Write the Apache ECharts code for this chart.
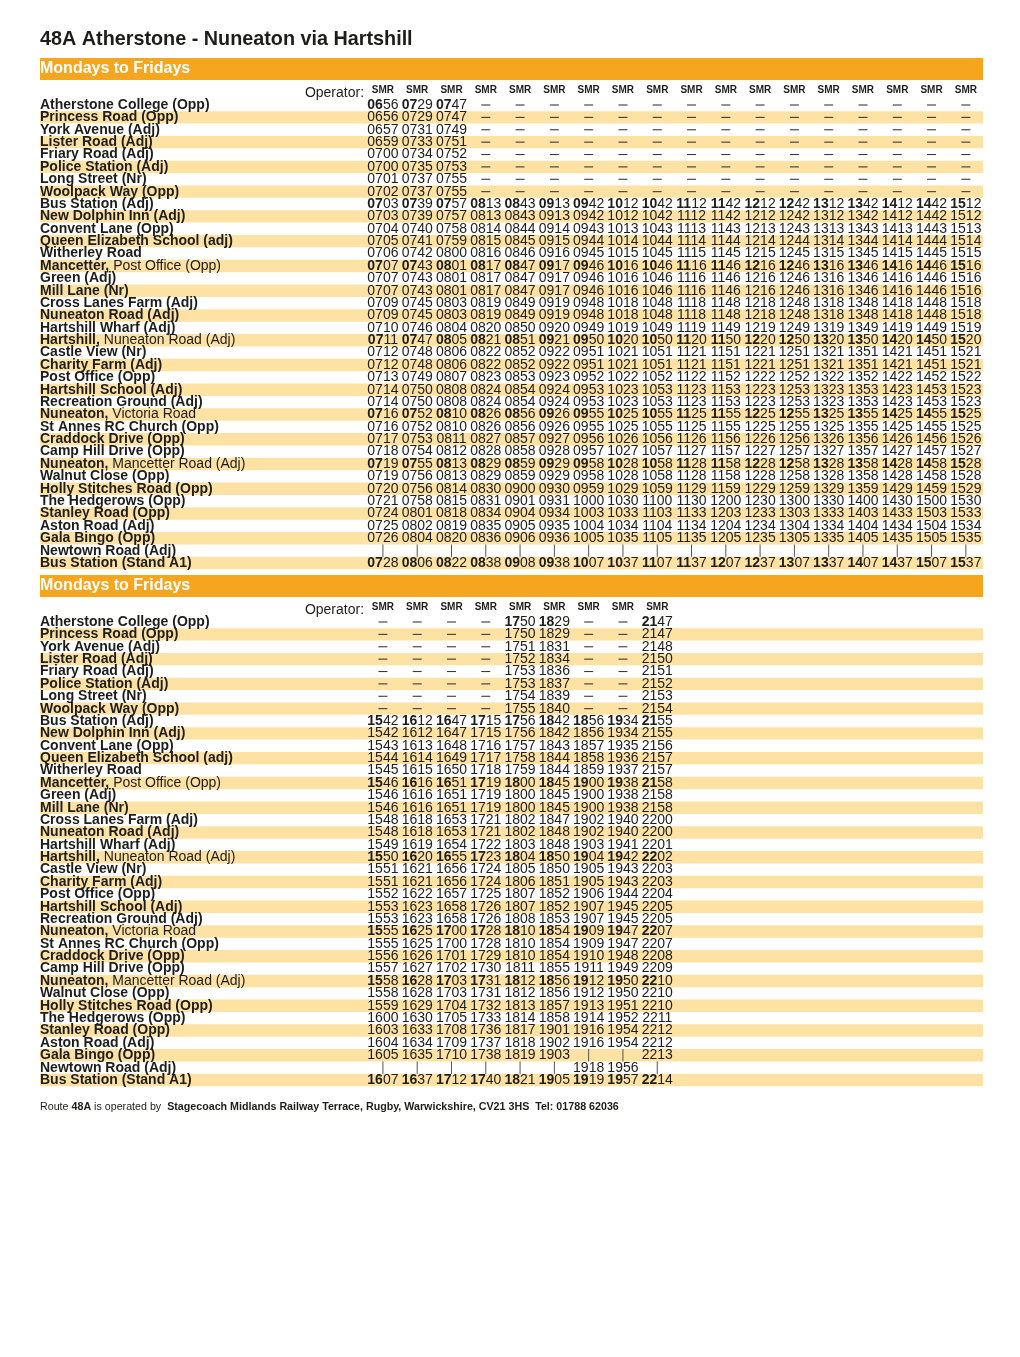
<!DOCTYPE html>
<html>
<head>
<meta charset="utf-8">
<title>48A Atherstone - Nuneaton via Hartshill</title>
<script src="https://cdn.jsdelivr.net/npm/echarts@6/dist/echarts.min.js"></script>
<style>
  html, body { margin: 0; padding: 0; background: #fff; }
  #main { width: 1020px; height: 1357px; }
</style>
</head>
<body>
<div id="main"></div>
<script>
// stops, top to bottom (same order in both tables)
var stops = [
  'Atherstone College (Opp)', 'Princess Road (Opp)', 'York Avenue (Adj)', 'Lister Road (Adj)',
  'Friary Road (Adj)', 'Police Station (Adj)', 'Long Street (Nr)', 'Woolpack Way (Opp)',
  'Bus Station (Adj)', 'New Dolphin Inn (Adj)', 'Convent Lane (Opp)', 'Queen Elizabeth School (adj)',
  'Witherley Road', 'Mancetter, Post Office (Opp)', 'Green (Adj)', 'Mill Lane (Nr)',
  'Cross Lanes Farm (Adj)', 'Nuneaton Road (Adj)', 'Hartshill Wharf (Adj)', 'Hartshill, Nuneaton Road (Adj)',
  'Castle View (Nr)', 'Charity Farm (Adj)', 'Post Office (Opp)', 'Hartshill School (Adj)',
  'Recreation Ground (Adj)', 'Nuneaton, Victoria Road', 'St Annes RC Church (Opp)', 'Craddock Drive (Opp)',
  'Camp Hill Drive (Opp)', 'Nuneaton, Mancetter Road (Adj)', 'Walnut Close (Opp)', 'Holly Stitches Road (Opp)',
  'The Hedgerows (Opp)', 'Stanley Road (Opp)', 'Aston Road (Adj)', 'Gala Bingo (Opp)',
  'Newtown Road (Adj)', 'Bus Station (Stand A1)'
]
// rows where the hour is printed in bold (timing points)
var timingRows = [0, 8, 13, 19, 25, 29, 37]

// '-' = does not serve, '|' = passes without stopping
var operators1 = ['SMR', 'SMR', 'SMR', 'SMR', 'SMR', 'SMR', 'SMR', 'SMR', 'SMR', 'SMR', 'SMR', 'SMR', 'SMR', 'SMR', 'SMR', 'SMR', 'SMR', 'SMR']
var trips1 = [
  '0656 0656 0657 0659 0700 0700 0701 0702 0703 0703 0704 0705 0706 0707 0707 0707 0709 0709 0710 0711 0712 0712 0713 0714 0714 0716 0716 0717 0718 0719 0719 0720 0721 0724 0725 0726 | 0728',
  '0729 0729 0731 0733 0734 0735 0737 0737 0739 0739 0740 0741 0742 0743 0743 0743 0745 0745 0746 0747 0748 0748 0749 0750 0750 0752 0752 0753 0754 0755 0756 0756 0758 0801 0802 0804 | 0806',
  '0747 0747 0749 0751 0752 0753 0755 0755 0757 0757 0758 0759 0800 0801 0801 0801 0803 0803 0804 0805 0806 0806 0807 0808 0808 0810 0810 0811 0812 0813 0813 0814 0815 0818 0819 0820 | 0822',
  '- - - - - - - - 0813 0813 0814 0815 0816 0817 0817 0817 0819 0819 0820 0821 0822 0822 0823 0824 0824 0826 0826 0827 0828 0829 0829 0830 0831 0834 0835 0836 | 0838',
  '- - - - - - - - 0843 0843 0844 0845 0846 0847 0847 0847 0849 0849 0850 0851 0852 0852 0853 0854 0854 0856 0856 0857 0858 0859 0859 0900 0901 0904 0905 0906 | 0908',
  '- - - - - - - - 0913 0913 0914 0915 0916 0917 0917 0917 0919 0919 0920 0921 0922 0922 0923 0924 0924 0926 0926 0927 0928 0929 0929 0930 0931 0934 0935 0936 | 0938',
  '- - - - - - - - 0942 0942 0943 0944 0945 0946 0946 0946 0948 0948 0949 0950 0951 0951 0952 0953 0953 0955 0955 0956 0957 0958 0958 0959 1000 1003 1004 1005 | 1007',
  '- - - - - - - - 1012 1012 1013 1014 1015 1016 1016 1016 1018 1018 1019 1020 1021 1021 1022 1023 1023 1025 1025 1026 1027 1028 1028 1029 1030 1033 1034 1035 | 1037',
  '- - - - - - - - 1042 1042 1043 1044 1045 1046 1046 1046 1048 1048 1049 1050 1051 1051 1052 1053 1053 1055 1055 1056 1057 1058 1058 1059 1100 1103 1104 1105 | 1107',
  '- - - - - - - - 1112 1112 1113 1114 1115 1116 1116 1116 1118 1118 1119 1120 1121 1121 1122 1123 1123 1125 1125 1126 1127 1128 1128 1129 1130 1133 1134 1135 | 1137',
  '- - - - - - - - 1142 1142 1143 1144 1145 1146 1146 1146 1148 1148 1149 1150 1151 1151 1152 1153 1153 1155 1155 1156 1157 1158 1158 1159 1200 1203 1204 1205 | 1207',
  '- - - - - - - - 1212 1212 1213 1214 1215 1216 1216 1216 1218 1218 1219 1220 1221 1221 1222 1223 1223 1225 1225 1226 1227 1228 1228 1229 1230 1233 1234 1235 | 1237',
  '- - - - - - - - 1242 1242 1243 1244 1245 1246 1246 1246 1248 1248 1249 1250 1251 1251 1252 1253 1253 1255 1255 1256 1257 1258 1258 1259 1300 1303 1304 1305 | 1307',
  '- - - - - - - - 1312 1312 1313 1314 1315 1316 1316 1316 1318 1318 1319 1320 1321 1321 1322 1323 1323 1325 1325 1326 1327 1328 1328 1329 1330 1333 1334 1335 | 1337',
  '- - - - - - - - 1342 1342 1343 1344 1345 1346 1346 1346 1348 1348 1349 1350 1351 1351 1352 1353 1353 1355 1355 1356 1357 1358 1358 1359 1400 1403 1404 1405 | 1407',
  '- - - - - - - - 1412 1412 1413 1414 1415 1416 1416 1416 1418 1418 1419 1420 1421 1421 1422 1423 1423 1425 1425 1426 1427 1428 1428 1429 1430 1433 1434 1435 | 1437',
  '- - - - - - - - 1442 1442 1443 1444 1445 1446 1446 1446 1448 1448 1449 1450 1451 1451 1452 1453 1453 1455 1455 1456 1457 1458 1458 1459 1500 1503 1504 1505 | 1507',
  '- - - - - - - - 1512 1512 1513 1514 1515 1516 1516 1516 1518 1518 1519 1520 1521 1521 1522 1523 1523 1525 1525 1526 1527 1528 1528 1529 1530 1533 1534 1535 | 1537'
]

var operators2 = ['SMR', 'SMR', 'SMR', 'SMR', 'SMR', 'SMR', 'SMR', 'SMR', 'SMR']
var trips2 = [
  '- - - - - - - - 1542 1542 1543 1544 1545 1546 1546 1546 1548 1548 1549 1550 1551 1551 1552 1553 1553 1555 1555 1556 1557 1558 1558 1559 1600 1603 1604 1605 | 1607',
  '- - - - - - - - 1612 1612 1613 1614 1615 1616 1616 1616 1618 1618 1619 1620 1621 1621 1622 1623 1623 1625 1625 1626 1627 1628 1628 1629 1630 1633 1634 1635 | 1637',
  '- - - - - - - - 1647 1647 1648 1649 1650 1651 1651 1651 1653 1653 1654 1655 1656 1656 1657 1658 1658 1700 1700 1701 1702 1703 1703 1704 1705 1708 1709 1710 | 1712',
  '- - - - - - - - 1715 1715 1716 1717 1718 1719 1719 1719 1721 1721 1722 1723 1724 1724 1725 1726 1726 1728 1728 1729 1730 1731 1731 1732 1733 1736 1737 1738 | 1740',
  '1750 1750 1751 1752 1753 1753 1754 1755 1756 1756 1757 1758 1759 1800 1800 1800 1802 1802 1803 1804 1805 1806 1807 1807 1808 1810 1810 1810 1811 1812 1812 1813 1814 1817 1818 1819 | 1821',
  '1829 1829 1831 1834 1836 1837 1839 1840 1842 1842 1843 1844 1844 1845 1845 1845 1847 1848 1848 1850 1850 1851 1852 1852 1853 1854 1854 1854 1855 1856 1856 1857 1858 1901 1902 1903 | 1905',
  '- - - - - - - - 1856 1856 1857 1858 1859 1900 1900 1900 1902 1902 1903 1904 1905 1905 1906 1907 1907 1909 1909 1910 1911 1912 1912 1913 1914 1916 1916 | 1918 1919',
  '- - - - - - - - 1934 1934 1935 1936 1937 1938 1938 1938 1940 1940 1941 1942 1943 1943 1944 1945 1945 1947 1947 1948 1949 1950 1950 1951 1952 1954 1954 | 1956 1957',
  '2147 2147 2148 2150 2151 2152 2153 2154 2155 2155 2156 2157 2157 2158 2158 2158 2200 2200 2201 2202 2203 2203 2204 2205 2205 2207 2207 2208 2209 2210 2210 2210 2211 2212 2212 2213 | 2214'
]

var FONT = '"Liberation Sans", Arial, Helvetica, sans-serif'
var INK = '#1d1d1b'
var STRIPE = '#fde2a4'
var ORANGE = '#f6a51f'

// turn one table into a flat list of cells for the custom series
function buildCells(trips, operators) {
  var cells = []
  stops.forEach(function (name, r) {
    cells.push({ x: -9, y: r, kind: 'name', text: name })
  })
  cells.push({ x: 0.45, y: -0.95, kind: 'operatorLabel', text: 'Operator:' })
  trips.forEach(function (trip, c) {
    cells.push({ x: c + 1, y: -1.2, kind: 'operator', text: operators[c] })
    trip.split(' ').forEach(function (t, r) {
      cells.push({ x: c + 1, y: r, kind: 'time', text: t, bold: timingRows.indexOf(r) >= 0 })
    })
  })
  return cells
}

function stripeRows() {
  var rows = []
  for (var r = 1; r < stops.length; r += 2) rows.push([0, r])
  return rows
}

function renderStripe(params, api) {
  var pt = api.coord([api.value(0), api.value(1)])
  var rowH = api.size([0, 1])[1]
  var cs = params.coordSys
  return {
    type: 'rect',
    shape: { x: cs.x, y: pt[1] - rowH / 2, width: cs.width, height: rowH },
    style: { fill: STRIPE }
  }
}

function cellRenderer(cells) {
  return function (params, api) {
    var cell = cells[params.dataIndex]
    var pt = api.coord([cell.x, cell.y])
    var rowH = api.size([0, 1])[1]
    if (cell.kind === 'name') {
      var comma = cell.text.indexOf(', ')
      var txt = comma > 0
        ? '{b|' + cell.text.slice(0, comma + 1) + '}{n|' + cell.text.slice(comma + 1) + '}'
        : '{b|' + cell.text + '}'
      return {
        type: 'text', x: pt[0], y: pt[1],
        style: {
          text: txt, align: 'left', verticalAlign: 'middle',
          rich: {
            b: { fontFamily: FONT, fontSize: 14, fontWeight: 'bold', fill: INK },
            n: { fontFamily: FONT, fontSize: 14, fontWeight: 'normal', fill: INK }
          }
        }
      }
    }
    if (cell.kind === 'operatorLabel') {
      return {
        type: 'text', x: pt[0], y: pt[1],
        style: { text: cell.text, align: 'right', verticalAlign: 'middle', fontFamily: FONT, fontSize: 14, fill: INK }
      }
    }
    if (cell.kind === 'operator') {
      return {
        type: 'text', x: pt[0], y: pt[1],
        style: { text: cell.text, align: 'center', verticalAlign: 'middle', fontFamily: FONT, fontSize: 10, fontWeight: 'bold', fill: INK }
      }
    }
    if (cell.text === '-') {
      return {
        type: 'line',
        shape: { x1: pt[0] - 4.5, y1: pt[1], x2: pt[0] + 4.5, y2: pt[1] },
        style: { stroke: '#3a3a3a', lineWidth: 1.1 }
      }
    }
    if (cell.text === '|') {
      return {
        type: 'line',
        shape: { x1: pt[0], y1: pt[1] - rowH / 2, x2: pt[0], y2: pt[1] + rowH / 2 },
        style: { stroke: '#555', lineWidth: 1 }
      }
    }
    var t = cell.bold ? '{b|' + cell.text.slice(0, 2) + '}{n|' + cell.text.slice(2) + '}' : '{n|' + cell.text + '}'
    return {
      type: 'text', x: pt[0], y: pt[1],
      style: {
        text: t, align: 'center', verticalAlign: 'middle',
        rich: {
          b: { fontFamily: FONT, fontSize: 14, fontWeight: 'bold', fill: INK },
          n: { fontFamily: FONT, fontSize: 14, fontWeight: 'normal', fill: INK }
        }
      }
    }
  }
}

var cells1 = buildCells(trips1, operators1)
var cells2 = buildCells(trips2, operators2)

var myChart = echarts.init(document.getElementById('main'), null, { renderer: 'canvas' })

function xAxisCfg(i) {
  return { gridIndex: i, type: 'value', min: -9, max: 18.5, show: false }
}
function yAxisCfg(i) {
  return { gridIndex: i, type: 'value', min: -2.5, max: 37.5, inverse: true, show: false }
}

var option = {
  animation: false,
  backgroundColor: '#fff',
  grid: [
    { left: 40, width: 943, top: 74.05, height: 495.2 },
    { left: 40, width: 943, top: 591.05, height: 495.2 }
  ],
  xAxis: [xAxisCfg(0), xAxisCfg(1)],
  yAxis: [yAxisCfg(0), yAxisCfg(1)],
  graphic: [
    {
      type: 'text', x: 40, y: 40,
      style: { text: '48A Atherstone - Nuneaton via Hartshill', fontFamily: FONT, fontSize: 19.8, fontWeight: 'bold', fill: INK, verticalAlign: 'middle' }
    },
    { type: 'rect', shape: { x: 40, y: 58, width: 943, height: 22 }, style: { fill: ORANGE } },
    {
      type: 'text', x: 40, y: 69,
      style: { text: 'Mondays to Fridays', fontFamily: FONT, fontSize: 16, fontWeight: 'bold', fill: '#fff', verticalAlign: 'middle' }
    },
    { type: 'rect', shape: { x: 40, y: 575, width: 943, height: 22 }, style: { fill: ORANGE } },
    {
      type: 'text', x: 40, y: 586,
      style: { text: 'Mondays to Fridays', fontFamily: FONT, fontSize: 16, fontWeight: 'bold', fill: '#fff', verticalAlign: 'middle' }
    },
    {
      type: 'text', x: 40, y: 1107,
      style: {
        text: '{n|Route }{b|48A}{n| is operated by  }{b|Stagecoach Midlands Railway Terrace, Rugby, Warwickshire, CV21 3HS  Tel: 01788 62036}',
        verticalAlign: 'middle',
        rich: {
          n: { fontFamily: FONT, fontSize: 10.7, fill: INK },
          b: { fontFamily: FONT, fontSize: 10.7, fontWeight: 'bold', fill: INK }
        }
      }
    }
  ],
  series: [
    { type: 'custom', xAxisIndex: 0, yAxisIndex: 0, silent: true, data: stripeRows(), renderItem: renderStripe },
    { type: 'custom', xAxisIndex: 0, yAxisIndex: 0, silent: true, data: cells1.map(function (c) { return [c.x, c.y] }), renderItem: cellRenderer(cells1) },
    { type: 'custom', xAxisIndex: 1, yAxisIndex: 1, silent: true, data: stripeRows(), renderItem: renderStripe },
    { type: 'custom', xAxisIndex: 1, yAxisIndex: 1, silent: true, data: cells2.map(function (c) { return [c.x, c.y] }), renderItem: cellRenderer(cells2) }
  ]
}
myChart.setOption(option)
</script>
</body>
</html>
